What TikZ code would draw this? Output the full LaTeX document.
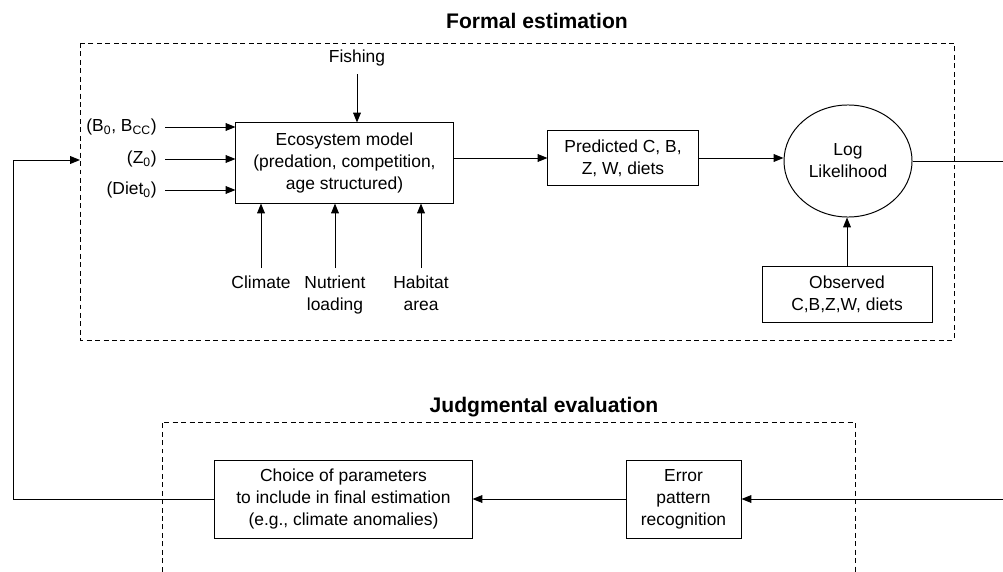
\documentclass[tikz,border=0pt]{standalone}
\usepackage{fontspec}
\setmainfont{Liberation Sans}
\usepackage{tikz}
\usetikzlibrary{shapes.geometric, arrows.meta, positioning}

\begin{document}
\begin{tikzpicture}[x=0.025cm, y=-0.025cm, font=\fontsize{12.4}{15.6}\selectfont,
    box/.style={draw, line width=0.7pt, align=center, inner sep=0pt},
    lbl/.style={align=center, inner sep=0pt},
    arr/.style={-{Triangle[length=7pt,width=5.5pt]}, line width=0.7pt},
    group/.style={draw, dash pattern=on 3.5pt off 2.5pt, line width=0.6pt},
    title/.style={font=\fontsize{15}{18}\selectfont\bfseries}]
        \path[use as bounding box] (0,0) rectangle (1003,571);
        \clip (0,0) rectangle (1003,571);

        % Formal estimation
        \node[title] (ftitle) at (537,21) {Formal estimation};
        \draw[group] (80,43) rectangle (954,340);

        \node[box, minimum width=5.425cm, minimum height=2cm]
            (eco) at (344.5,163) {Ecosystem model\\(predation, competition,\\age structured)};

        % Inputs
        \node[lbl, anchor=east] (bzero) at (157,127) {(B\textsubscript{0}, B\textsubscript{CC})};
        \node[lbl, anchor=east] (zzero) at (157,159) {(Z\textsubscript{0})};
        \node[lbl, anchor=east] (diet) at (157,190) {(Diet\textsubscript{0})};
        \foreach \n in {bzero, zzero, diet}
            \draw[arr] ([xshift=0.2cm]\n.east) -- (eco.west |- \n.east);

        \node[lbl] (fish) at (357,58) {Fishing};
        \draw[arr] ([yshift=-0.2cm]fish.south) -- (fish |- eco.north);

        \node[lbl, anchor=north] (clim) at (261,276) {Climate};
        \node[lbl, anchor=north] (nutr) at (335,276) {Nutrient\\loading};
        \node[lbl, anchor=north] (habi) at (421,276) {Habitat\\area};
        \foreach \n in {clim, nutr, habi}
            \draw[arr] ([yshift=0.2cm]\n.north) -- (\n.north |- eco.south);

        % Fit to data
        \node[box, minimum width=3.75cm, minimum height=1.375cm]
            (pred) at (623,158) {Predicted C, B,\\Z, W, diets};
        \draw[arr] (eco.east |- pred) -- (pred.west);

        \node[ellipse, draw, line width=0.7pt, minimum width=3.2cm, minimum height=2.8cm,
            align=center, inner sep=0pt] (loglik) at (848,161) {Log\\Likelihood};
        \draw[arr] (pred.east) -- (pred.east -| loglik.west);

        \node[box, minimum width=4.25cm, minimum height=1.4cm]
            (obs) at (847,294) {Observed\\C,B,Z,W, diets};
        \draw[arr] (obs.north) -- (obs.north |- loglik.south);

        % Judgmental evaluation
        \node[title] (jtitle) at (544,407) {Judgmental evaluation};
        \draw[group] (162,580) -- (162,422) -- (855,422) -- (855,580);

        \node[box, minimum width=6.425cm, minimum height=1.95cm]
            (choice) at (343.5,499) {Choice of parameters\\to include in final estimation\\(e.g., climate anomalies)};
        \node[box, minimum width=2.875cm, minimum height=1.95cm]
            (err) at (683.5,499) {Error\\pattern\\recognition};

        % Feedback loop
        \coordinate (rturn) at (1060,161);
        \coordinate (lturn) at (13,160);
        \coordinate (fentry) at (80,160);
        \draw[arr] (loglik.east) -- (rturn) |- (err.east);
        \draw[arr] (err.west) -- (choice.east);
        \draw[arr] (choice.west) -| (lturn) -- (fentry);
    \end{tikzpicture}
\end{document}
